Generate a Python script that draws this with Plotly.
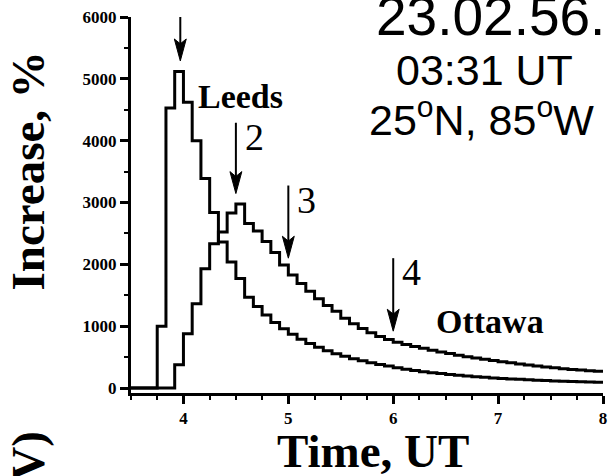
import plotly.graph_objects as go

# 5-minute neutron monitor increases (%) for the GLE of 23 Feb 1956
STEP_H = 5 / 60      # sampling step, hours
T0 = 3.5             # UT of the first sample

leeds_pct = [0, 0, 0, 1000, 4530, 5120, 4620, 4000, 3390, 2840, 2360, 2040,
             1770, 1470, 1320, 1180, 1060, 960, 870, 790, 720, 660, 605, 555,
             515, 475, 440, 410, 380, 355, 330, 305, 285, 262, 248, 234, 220,
             206, 194, 183, 173, 164, 155, 148, 141, 134, 128, 122, 116, 111,
             106, 101, 96, 92, 88]

ottawa_pct = [0, 0, 0, 0, 0, 375, 880, 1365, 1930, 2335, 2525, 2830, 2975,
              2660, 2540, 2370, 2190, 1990, 1830, 1690, 1565, 1445, 1335, 1240,
              1130, 1040, 965, 895, 835, 785, 740, 705, 672, 642, 612, 585, 558,
              532, 508, 486, 464, 444, 426, 408, 390, 372, 356, 341, 327, 314,
              302, 290, 280, 270, 262]

# marked moments (UT) and the arrow extent in % units
arrow_ut = [3.97, 4.5, 5.0, 6.0]
arrow_top = [6000, 4290, 3275, 2100]
arrow_tip = [5290, 3145, 2100, 920]
arrow_tags = ["", "2", "3", "4"]

x_ticks = [4, 5, 6, 7, 8]
y_ticks = [0, 1000, 2000, 3000, 4000, 5000, 6000]

ut_leeds = [T0 + k * STEP_H for k in range(len(leeds_pct))]
ut_ottawa = [T0 + k * STEP_H for k in range(len(ottawa_pct))]

# plot-area geometry in pixels
W, H = 615, 476
ML, MR, MT, MB = 131, 8, 16, 83
PW, PH = W - ML - MR, H - MT - MB
X_RANGE = [3.5, 8.0]
Y_RANGE = [-80, 6000]
px_per_h = PW / (X_RANGE[1] - X_RANGE[0])
px_per_pct = PH / (Y_RANGE[1] - Y_RANGE[0])

SERIF = "Liberation Serif"
SANS = "Liberation Sans"


def paper_x(px):
    return (px - ML) / PW


def paper_y(py):
    return (MT + PH - py) / PH


fig = go.Figure()

line_style = dict(color="black", width=3, shape="hv")
fig.add_trace(go.Scatter(x=ut_leeds, y=leeds_pct, mode="lines",
                         line=line_style, hoverinfo="skip"))
fig.add_trace(go.Scatter(x=ut_ottawa, y=ottawa_pct, mode="lines",
                         line=line_style, hoverinfo="skip"))

# arrows: shaft plus a narrow filled head
head_hw = 6 / px_per_h
head_len = 22 / px_per_pct
for xa, yt, yp in zip(arrow_ut, arrow_top, arrow_tip):
    fig.add_trace(go.Scatter(x=[xa, xa], y=[yt, yp + 0.5 * head_len],
                             mode="lines", line=dict(color="black", width=2),
                             hoverinfo="skip", cliponaxis=False))
    fig.add_trace(go.Scatter(
        x=[xa - head_hw, xa, xa + head_hw, xa, xa - head_hw],
        y=[yp + head_len, yp, yp + head_len, yp + 0.78 * head_len, yp + head_len],
        mode="lines", fill="toself", fillcolor="black",
        line=dict(color="black", width=1), hoverinfo="skip"))

for xa, yt, tag in zip(arrow_ut, arrow_top, arrow_tags):
    if tag:
        fig.add_annotation(x=xa, y=yt, xref="x", yref="y", text=tag,
                           showarrow=False, xanchor="left", yanchor="top",
                           xshift=7, yshift=9,
                           font=dict(family=SERIF, size=38, color="black"))


def label(text, left, baseline, size, family, bold=False, ascent=0.891,
          descent=0.216):
    fig.add_annotation(
        x=paper_x(left - 1), y=paper_y(baseline + descent * size + 1),
        xref="paper", yref="paper", text=text, showarrow=False,
        xanchor="left", yanchor="bottom",
        font=dict(family=family, size=size, color="black",
                  weight="bold" if bold else "normal"))


label("Leeds", 198, 108, 34, SERIF, bold=True)
label("Ottawa", 438, 334, 34, SERIF, bold=True)
label("23.02.56.", 377, 35, 55, SANS, descent=0.212)
label("03:31 UT", 397, 85, 43, SANS, descent=0.212)
label("25<sup>o</sup>N, 85<sup>o</sup>W", 370, 135, 43, SANS, descent=0.212)

# axis titles
fig.add_annotation(x=paper_x(375), y=paper_y(468 + 0.216 * 47 + 1),
                   xref="paper", yref="paper", text="Time, UT",
                   showarrow=False, xanchor="center", yanchor="bottom",
                   font=dict(family=SERIF, size=47, color="black", weight="bold"))
fig.add_annotation(x=paper_x(27), y=paper_y(170), xref="paper", yref="paper",
                   text="Increase, %", textangle=-90, showarrow=False,
                   xanchor="center", yanchor="middle",
                   font=dict(family=SERIF, size=47, color="black", weight="bold"))
fig.add_annotation(x=paper_x(27), y=paper_y(456), xref="paper", yref="paper",
                   text="V)", textangle=-90, showarrow=False,
                   xanchor="center", yanchor="middle",
                   font=dict(family=SERIF, size=47, color="black", weight="bold"))

tick_font = dict(family=SERIF, size=17, color="black", weight="bold")
fig.update_xaxes(range=X_RANGE, tickvals=x_ticks, ticks="outside", ticklen=8,
                 tickwidth=2.5, tickcolor="black", showline=True, linewidth=3,
                 linecolor="black", showgrid=False, zeroline=False,
                 tickfont=tick_font,
                 minor=dict(dtick=0.25, tick0=0, ticks="outside", ticklen=4,
                            tickwidth=2, tickcolor="black", showgrid=False))
fig.update_yaxes(range=Y_RANGE, tickvals=y_ticks, ticks="outside", ticklen=8,
                 tickwidth=2.5, tickcolor="black", showline=True, linewidth=3,
                 linecolor="black", showgrid=False, zeroline=False,
                 tickfont=tick_font,
                 minor=dict(dtick=500, tick0=0, ticks="outside", ticklen=4,
                            tickwidth=2, tickcolor="black", showgrid=False))

fig.update_layout(width=W, height=H, margin=dict(l=ML, r=MR, t=MT, b=MB),
                  plot_bgcolor="white", paper_bgcolor="white",
                  showlegend=False)

fig.write_html("out.html")
